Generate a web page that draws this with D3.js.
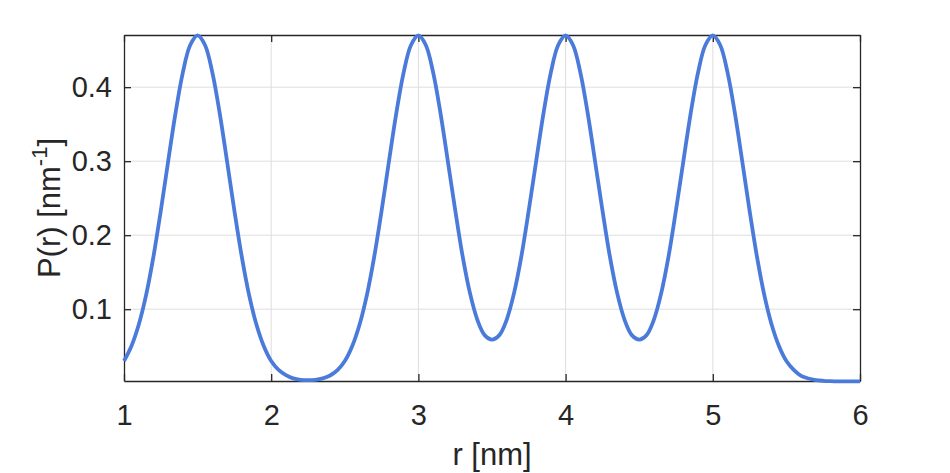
<!DOCTYPE html>
<html>
<head>
<meta charset="utf-8">
<script src="https://cdn.jsdelivr.net/npm/d3@7"></script>
<style>
  body { margin: 0; background: #fff; }
  text { font-family: "Liberation Sans", Arial, sans-serif; fill: #262626; }
</style>
</head>
<body>
<div id="chart"></div>
<script>
// r values in nm, read at 0.05 steps
const rValues = d3.range(101).map(i => +(1 + i * 0.05).toFixed(2));
// P(r) in nm^-1
const pValues = [
    0.030, 0.050, 0.079, 0.119, 0.171, 0.233, 0.300, 0.365, 0.420, 0.457,
    0.470, 0.457, 0.420, 0.365, 0.300, 0.233, 0.171, 0.119, 0.079, 0.050,
    0.030, 0.018, 0.011, 0.0065, 0.0046, 0.0041, 0.0046, 0.0065, 0.0104, 0.0176,
    0.030, 0.050, 0.079, 0.119, 0.171, 0.233, 0.300, 0.365, 0.420, 0.457,
    0.470, 0.457, 0.420, 0.365, 0.300, 0.234, 0.172, 0.122, 0.086, 0.065,
    0.059, 0.065, 0.086, 0.122, 0.172, 0.234, 0.300, 0.365, 0.420, 0.457,
    0.470, 0.457, 0.420, 0.365, 0.300, 0.234, 0.172, 0.122, 0.086, 0.065,
    0.059, 0.065, 0.086, 0.122, 0.172, 0.234, 0.300, 0.365, 0.420, 0.457,
    0.470, 0.457, 0.420, 0.365, 0.300, 0.233, 0.171, 0.119, 0.079, 0.050,
    0.030, 0.018, 0.010, 0.0064, 0.0043, 0.0033, 0.0028, 0.0025, 0.0025, 0.0025,
    0.0025
];
const xTicks = [1, 2, 3, 4, 5, 6];
const yTicks = [0.1, 0.2, 0.3, 0.4];

const width = 950, height = 473;
const mLeft = 124, mRight = 860, mTop = 35, mBottom = 381;

const svg = d3.select('#chart').append('svg')
    .attr('width', width)
    .attr('height', height);

const x = d3.scaleLinear().domain([1, 6]).range([mLeft, mRight]);
const y = d3.scaleLinear().domain([0.003, 0.4705]).range([mBottom, mTop]);

// grid
svg.append('g')
    .selectAll('line')
    .data(xTicks.slice(1, -1))
    .enter().append('line')
    .attr('x1', d => x(d)).attr('x2', d => x(d))
    .attr('y1', mTop).attr('y2', mBottom)
    .attr('stroke', '#dedede').attr('stroke-width', 1);

svg.append('g')
    .selectAll('line')
    .data(yTicks)
    .enter().append('line')
    .attr('x1', mLeft).attr('x2', mRight)
    .attr('y1', d => y(d)).attr('y2', d => y(d))
    .attr('stroke', '#dedede').attr('stroke-width', 1);

// axes (inward ticks, box on)
const tick = 7;
const xAxis = d3.axisBottom(x).tickValues(xTicks).tickSizeInner(-tick).tickSizeOuter(0).tickPadding(23).tickFormat(d3.format('d'));
const yAxis = d3.axisLeft(y).tickValues(yTicks).tickSizeInner(-tick).tickSizeOuter(0).tickPadding(12).tickFormat(d3.format('.1f'));

const gx = svg.append('g').attr('transform', `translate(0,${mBottom})`).call(xAxis);
const gy = svg.append('g').attr('transform', `translate(${mLeft},0)`).call(yAxis);
const gxt = svg.append('g').attr('transform', `translate(0,${mTop})`)
    .call(d3.axisTop(x).tickValues(xTicks).tickSizeInner(-tick).tickSizeOuter(0).tickFormat(''));
const gyr = svg.append('g').attr('transform', `translate(${mRight},0)`)
    .call(d3.axisRight(y).tickValues(yTicks).tickSizeInner(-tick).tickSizeOuter(0).tickFormat(''));

[gx, gy, gxt, gyr].forEach(g => {
    g.select('.domain').attr('stroke', '#262626').attr('stroke-width', 1.3);
    g.selectAll('.tick line').attr('stroke', '#262626').attr('stroke-width', 1.3);
    g.selectAll('.tick text').attr('font-size', 29).attr('fill', '#262626')
        .style('font-family', '"Liberation Sans", Arial, sans-serif');
});

// data line
const line = d3.line()
    .x((d, i) => x(rValues[i]))
    .y(d => y(d))
    .curve(d3.curveCatmullRom.alpha(0.5));

svg.append('path')
    .datum(pValues)
    .attr('d', line)
    .attr('fill', 'none')
    .attr('stroke', '#4a7bdb')
    .attr('stroke-width', 3.8)
    .attr('stroke-linejoin', 'round');

// labels
svg.append('text')
    .attr('x', (mLeft + mRight) / 2)
    .attr('y', 465)
    .attr('text-anchor', 'middle')
    .attr('font-size', 31)
    .text('r [nm]');

const yl = svg.append('text')
    .attr('transform', `translate(60,${(mTop + mBottom) / 2}) rotate(-90)`)
    .attr('text-anchor', 'middle')
    .attr('font-size', 31);
yl.append('tspan').text('P(r) [nm');
yl.append('tspan').attr('dy', -13).attr('font-size', 22).text('-1');
yl.append('tspan').attr('dy', 13).text(']');
</script>
</body>
</html>
